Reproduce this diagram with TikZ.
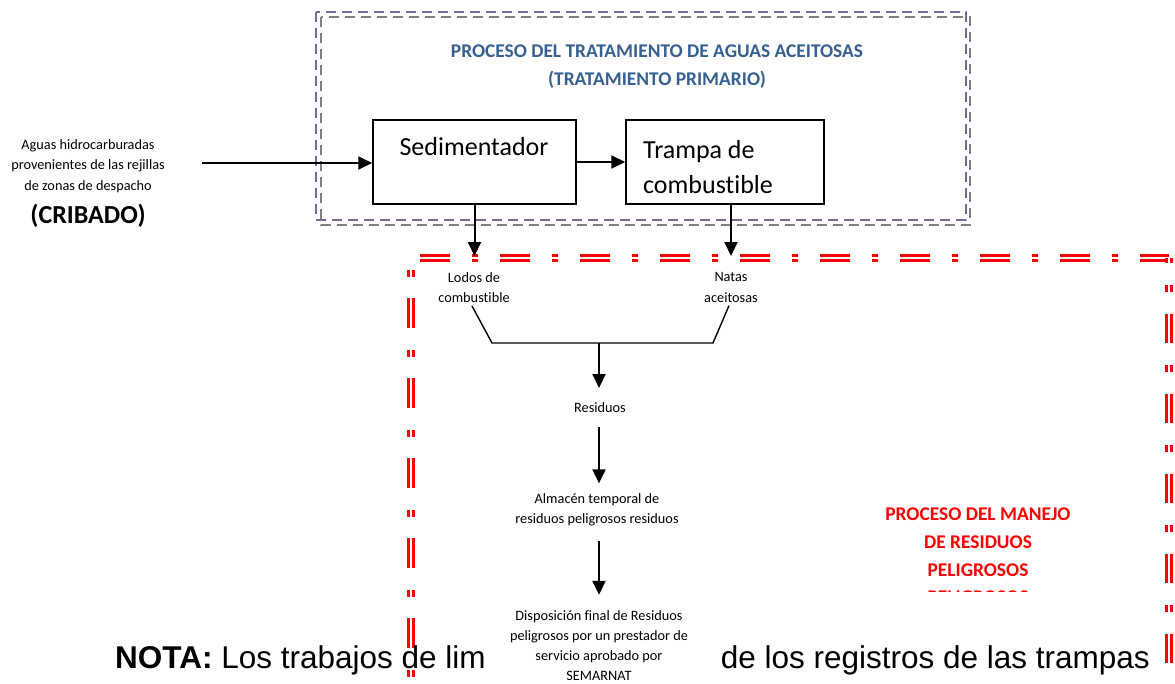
\documentclass[tikz,border=0pt]{standalone}
\usepackage{fontspec}
\setmainfont{Carlito}[Ligatures=NoCommon]
\newfontfamily\arialf{Liberation Sans}
\usetikzlibrary{arrows.meta}
\definecolor{tblue}{RGB}{54,96,146}
\definecolor{tpurple}{RGB}{128,100,162}
\definecolor{tgray}{RGB}{128,128,128}
\begin{document}
\begin{tikzpicture}[x=1pt,y=-1pt,
  arr/.style={line width=2pt,-{Triangle[length=14pt,width=13pt]}},
  thin/.style={line width=1.4pt},
  procbox/.style={draw,line width=1.5pt,inner sep=0pt},
  small/.style={font=\fontsize{14.3}{20.5}\selectfont,align=center,inner sep=0pt},
  big/.style={font=\fontsize{26}{35}\selectfont,inner sep=0pt},
  btitle/.style={font=\bfseries\fontsize{19.4}{28}\selectfont,text=tblue,align=center,inner sep=0pt},
  rtitle/.style={font=\bfseries\fontsize{19.4}{28}\selectfont,text=red,align=center,inner sep=0pt},
  redline/.style={draw=red,line width=2.6pt,double=white,double distance=2pt},
  nota/.style={font=\arialf\fontsize{31.5}{36}\selectfont,inner sep=0pt}]
\useasboundingbox (0,0) rectangle (1175,683);
\fill[white] (0,0) rectangle (1175,683);

% dashed frame of the treatment process
\draw[tgray,line width=2pt,dash pattern=on 10pt off 6pt] (321,17) rectangle (970,225);
\draw[tpurple,line width=2pt,dash pattern=on 10pt off 6pt] (316,12) rectangle (966,220);

\node[btitle] (ttl) at (657,67) {PROCESO DEL TRATAMIENTO DE AGUAS ACEITOSAS\\(TRATAMIENTO PRIMARIO)};

% red dash-dot frame of hazardous waste process
\draw[redline,dash pattern=on 30pt off 22pt on 6pt off 22pt] (420,258) -- (1169,258);
\draw[redline] (1169,258) -- (1169,263);
\draw[redline,dash pattern=on 7pt off 22pt on 29pt off 22pt] (1169,285) -- (1169,683);
\draw[redline,dash pattern=on 7pt off 21pt on 30pt off 22pt] (411,270) -- (411,683);

% input
\node[small] (agua) at (88,166) {Aguas hidrocarburadas\\provenientes de las rejillas\\de zonas de despacho};
\node[font=\bfseries\fontsize{26}{30}\selectfont,inner sep=0pt] (crib) at (88,216) {(CRIBADO)};

% boxes
\node[procbox,minimum width=203pt,minimum height=84pt] (sed) at (474.5,162) {};
\node[big] (sedt) at (474,147) {Sedimentador};
\node[procbox,minimum width=198pt,minimum height=84pt] (tr) at (725,162) {};
\node[big,anchor=west,align=left] (trt) at (643,167.5) {Trampa de\\combustible};

\coordinate (in) at (202,163);
\draw[arr] (in) -- (in -| sed.west);
\draw[arr] (sed.east) -- (tr.west);

\coordinate (lodin) at (474.5,256);
\coordinate (natin) at (731,256);
\draw[arr] (sed.south) -- (lodin);
\draw[arr] (tr.south -| natin) -- (natin);

\node[small] (lodos) at (474,287.5) {Lodos de\\combustible};
\node[small] (natas) at (731,287.5) {Natas\\aceitosas};

\coordinate (bl) at (492,343);
\coordinate (br) at (713,343);
\coordinate (j) at (599,343);
\draw[thin] ([shift={(-2pt,-3pt)}]lodos.south) -- (bl) -- (br) -- ([shift={(-2pt,-3pt)}]natas.south);

\node[small] (res) at (600,408) {Residuos};
\node[small] (alm) at (597,510) {Almacén temporal de\\residuos peligrosos residuos};
\node[small,font=\fontsize{14.3}{20}\selectfont] (disp) at (599,646) {Disposición final de Residuos\\peligrosos por un prestador de\\servicio aprobado por\\SEMARNAT};

\draw[arr] (j) -- (j |- 0,388);
\draw[arr] ([yshift=-14pt]res.south -| j) -- ([yshift=10pt]alm.north -| j);
\draw[arr] ([yshift=-14pt]alm.south -| j) -- ([yshift=16pt]disp.north -| j);

% red title
\node[rtitle] (rt) at (978,542) {PROCESO DEL MANEJO\\DE RESIDUOS\\PELIGROSOS};
\begin{scope}
  \clip (900,580) rectangle (1060,591);
  \node[rtitle] (rtc) at (978,597.5) {PELIGROSOS};
\end{scope}

% note
\node[nota,anchor=base west] (nota1) at (115,668) {\textbf{NOTA:} Los trabajos de lim};
\node[nota,anchor=base east] (nota2) at (1150,668) {de los registros de las trampas};
\end{tikzpicture}
\end{document}
